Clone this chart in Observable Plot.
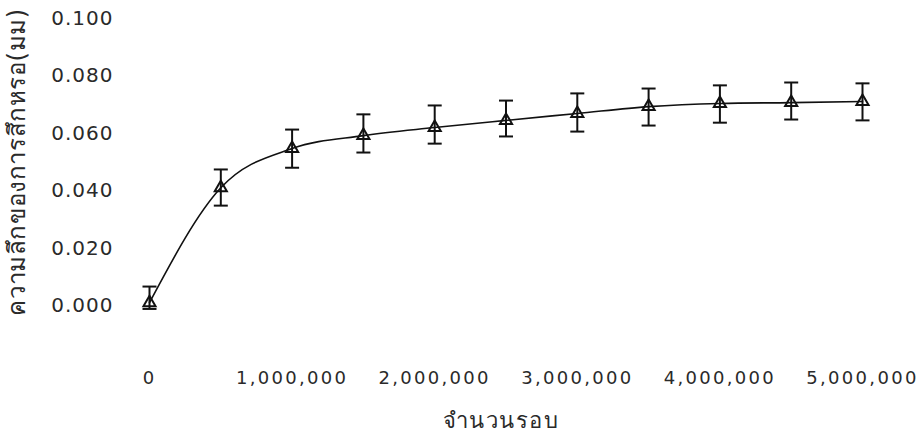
<!DOCTYPE html>
<html>
<head>
<meta charset="utf-8">
<script src="https://cdn.jsdelivr.net/npm/d3@7"></script>
<script src="https://cdn.jsdelivr.net/npm/@observablehq/plot@0.6"></script>
<style>
  html, body { margin: 0; padding: 0; background: #fff; }
  #chart svg { display: block; }
  g[aria-label="y-axis tick label"] text { letter-spacing: 1px; }
  g[aria-label="x-axis tick label"] text { letter-spacing: 2.3px; }
  g.xtitle text { letter-spacing: 1.5px; }
  g.ytitle text { letter-spacing: 0.6px; }
</style>
</head>
<body>
<div id="chart"></div>
<script>
const cycles = [0, 500000, 1000000, 1500000, 2000000, 2500000, 3000000, 3500000, 4000000, 4500000, 5000000];
const wear = [0.001, 0.041, 0.0547, 0.0592, 0.062, 0.0645, 0.0669, 0.0693, 0.0704, 0.0707, 0.0711];
const wearLow = [-0.0012, 0.0348, 0.048, 0.0533, 0.0564, 0.0589, 0.0606, 0.0627, 0.0637, 0.0648, 0.0645];
const wearHigh = [0.0066, 0.0474, 0.0613, 0.0666, 0.0697, 0.0714, 0.0739, 0.0756, 0.0767, 0.0777, 0.0774];
const xTicks = [0, 1000000, 2000000, 3000000, 4000000, 5000000];
const yTicks = [0, 0.02, 0.04, 0.06, 0.08, 0.1];
const xTitle = "จำนวนรอบ";
const yTitle = "ความลึกของการสึกหรอ(มม)";

const data = cycles.map((c, i) => ({cycles: c, wear: wear[i], low: wearLow[i], high: wearHigh[i]}));

const capSymbol = {
  draw(context) {
    context.moveTo(-7, 0);
    context.lineTo(7, 0);
  }
};

const font = "'DejaVu Sans', 'Liberation Sans', sans-serif";
const ink = "#2a2a2a";

const chart = Plot.plot({
  width: 920,
  height: 439,
  marginLeft: 149,
  marginRight: 58,
  marginTop: 18,
  marginBottom: 134,
  style: {fontFamily: font, background: "#fff", color: ink},
  x: {domain: [0, 5000000]},
  y: {domain: [0, 0.1]},
  marks: [
    Plot.axisX({
      ticks: xTicks, tickFormat: d3.format(","), tickSize: 0, tickPadding: 66,
      fontSize: 18, label: null
    }),
    Plot.axisY({
      ticks: yTicks, tickFormat: d3.format(".3f"), tickSize: 0, tickPadding: 36,
      fontSize: 20, label: null
    }),
    Plot.text([xTitle], {
      frameAnchor: "bottom", dy: 115, dx: -5, fontSize: 22, fill: ink,
      className: "xtitle", lineAnchor: "middle", textAnchor: "middle"
    }),
    Plot.text([yTitle], {
      frameAnchor: "left", dx: -132, rotate: -90, fontSize: 24, fill: ink,
      className: "ytitle", lineAnchor: "middle", textAnchor: "middle"
    }),
    Plot.line(data, {x: "cycles", y: "wear", curve: "monotone-x", stroke: "#111", strokeWidth: 1.6}),
    Plot.ruleX(data, {x: "cycles", y1: "low", y2: "high", stroke: "#111", strokeWidth: 2}),
    Plot.dot(data, {x: "cycles", y: "low", symbol: capSymbol, stroke: "#111", strokeWidth: 2, fill: "none"}),
    Plot.dot(data, {x: "cycles", y: "high", symbol: capSymbol, stroke: "#111", strokeWidth: 2, fill: "none"}),
    Plot.dot(data, {x: "cycles", y: "wear", symbol: "triangle", r: 4.5, stroke: "#111", strokeWidth: 2, fill: "none"})
  ]
});
document.getElementById("chart").append(chart);
</script>
</body>
</html>
